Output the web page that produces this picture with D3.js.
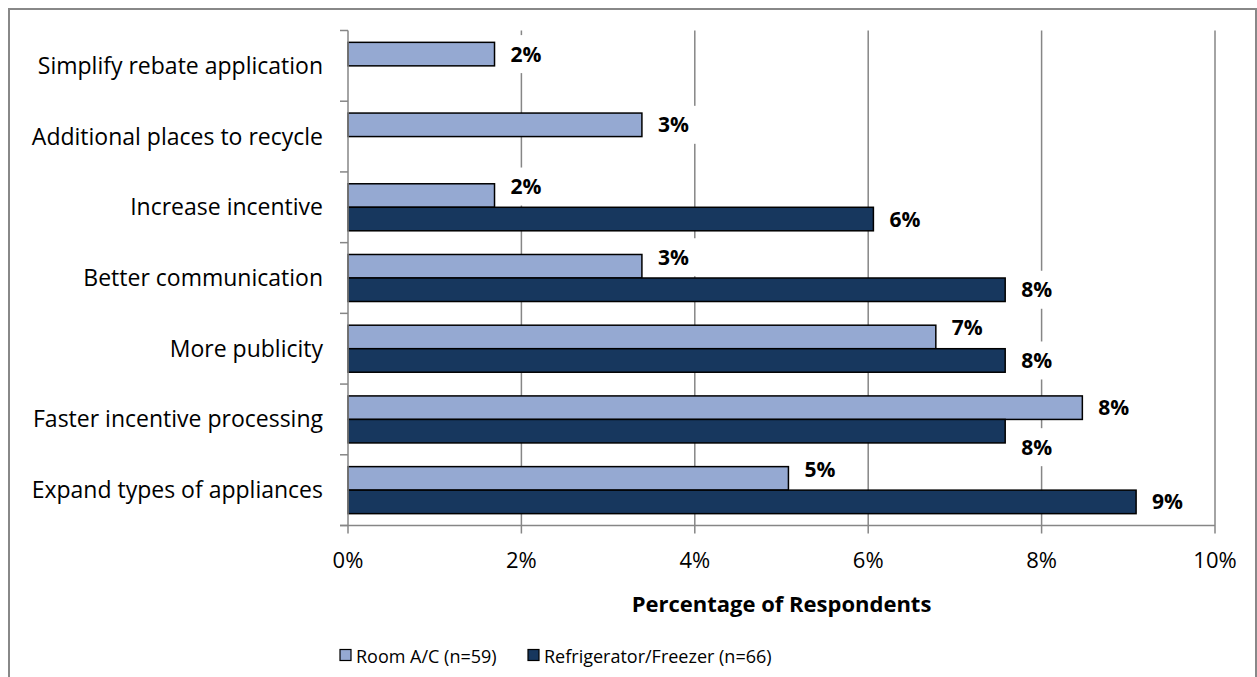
<!DOCTYPE html>
<html>
<head>
<meta charset="utf-8">
<script src="https://cdn.jsdelivr.net/npm/d3@7"></script>
<style>
  html, body { margin: 0; padding: 0; background: #fff; }
  svg { display: block; font-family: "Open Sans", Carlito, Calibri, sans-serif; }
</style>
</head>
<body>
<svg id="chart" width="1257" height="677"></svg>
<script>
// Suggested program improvements, share of respondents by appliance type
const categories = [
  "Simplify rebate application",
  "Additional places to recycle",
  "Increase incentive",
  "Better communication",
  "More publicity",
  "Faster incentive processing",
  "Expand types of appliances"
];
const roomAC = [1.69, 3.39, 1.69, 3.39, 6.78, 8.47, 5.08];
const fridge = [null, null, 6.06, 7.58, 7.58, 7.58, 9.09];
const seriesNames = ["Room A/C (n=59)", "Refrigerator/Freezer (n=66)"];
const xTicks = [0, 2, 4, 6, 8, 10];
const axisTitle = "Percentage of Respondents";

const colors = { ac: "#95A9D2", ref: "#17375E", grid: "#868686" };

const svg = d3.select("#chart");

// outer frame
svg.append("rect")
  .attr("x", 9).attr("y", 9).attr("width", 1247).attr("height", 700)
  .attr("fill", "none").attr("stroke", "#888").attr("stroke-width", 2);

const plot = { left: 348, right: 1215, top: 30.5, bottom: 525.5 };

const x = d3.scaleLinear().domain([0, 10]).range([plot.left, plot.right]);
const y = d3.scaleBand().domain(categories).range([plot.top, plot.bottom]).padding(0);
const bw = y.bandwidth();
const groupH = bw * 0.665;
const sub = d3.scaleBand().domain(["ac", "ref"]).range([(bw - groupH) / 2, (bw + groupH) / 2]).padding(0);

// vertical gridlines (extend below axis as tick marks)
const gGrid = svg.append("g");
gGrid.selectAll("line").data(xTicks.filter(t => t > 0)).join("line")
  .attr("x1", d => x(d)).attr("x2", d => x(d))
  .attr("y1", plot.top).attr("y2", plot.bottom + 8)
  .attr("stroke", colors.grid).attr("stroke-width", 1.5);

// value label records; labels are nudged apart when both bars are present
const rows = categories.map((c, i) => ({ c, ac: roomAC[i], ref: fridge[i] }));
const labels = [];
rows.forEach(r => {
  const yc = y(r.c);
  const acMid = yc + sub("ac") + sub.bandwidth() / 2;
  const refMid = yc + sub("ref") + sub.bandwidth() / 2;
  let acShift = 0, refShift = 0;
  if (r.ref != null) {
    if (r.ac > r.ref) refShift = 16; else acShift = -9;
  }
  labels.push({ v: r.ac, x: x(r.ac) + 16, y: acMid + acShift });
  if (r.ref != null) labels.push({ v: r.ref, x: x(r.ref) + 16, y: refMid + refShift });
});

// white label backgrounds (hide gridlines behind value labels)
const gLabBg = svg.append("g");
// bars
const gBars = svg.append("g");
rows.forEach(r => {
  const yc = y(r.c);
  gBars.append("rect")
    .attr("x", x(0)).attr("y", yc + sub("ac"))
    .attr("width", x(r.ac) - x(0)).attr("height", sub.bandwidth())
    .attr("fill", colors.ac).attr("stroke", "#000").attr("stroke-width", 1.5);
  if (r.ref != null) {
    gBars.append("rect")
      .attr("x", x(0)).attr("y", yc + sub("ref"))
      .attr("width", x(r.ref) - x(0)).attr("height", sub.bandwidth())
      .attr("fill", colors.ref).attr("stroke", "#000").attr("stroke-width", 1.5);
  }
});

// value labels
const gLab = svg.append("g");
labels.forEach(l => {
  const t = gLab.append("text")
    .attr("x", l.x).attr("y", l.y + 7.5)
    .attr("font-size", 21).attr("font-weight", "bold").attr("fill", "#000")
    .text(Math.round(l.v) + "%");
  const w = t.node().getComputedTextLength();
  gLabBg.append("rect")
    .attr("x", l.x - 10).attr("y", l.y - 19)
    .attr("width", w + 20).attr("height", 38)
    .attr("fill", "#fff");
});

// axis lines and ticks
const gAxis = svg.append("g");
gAxis.append("line")
  .attr("x1", plot.left).attr("x2", plot.left)
  .attr("y1", plot.top).attr("y2", plot.bottom)
  .attr("stroke", colors.grid).attr("stroke-width", 1.5);
gAxis.append("line")
  .attr("x1", plot.left - 8).attr("x2", plot.right)
  .attr("y1", plot.bottom).attr("y2", plot.bottom)
  .attr("stroke", colors.grid).attr("stroke-width", 1.5);
const bounds = categories.map(c => y(c)).concat([plot.bottom]);
gAxis.selectAll(".ct").data(bounds).join("line")
  .attr("x1", plot.left - 8).attr("x2", plot.left)
  .attr("y1", d => d).attr("y2", d => d)
  .attr("stroke", colors.grid).attr("stroke-width", 1.5);
gAxis.append("line")
  .attr("x1", plot.left).attr("x2", plot.left)
  .attr("y1", plot.bottom).attr("y2", plot.bottom + 8)
  .attr("stroke", colors.grid).attr("stroke-width", 1.5);

// category labels
svg.append("g").selectAll("text").data(categories).join("text")
  .attr("x", plot.left - 25)
  .attr("y", d => y(d) + bw / 2 + 8)
  .attr("text-anchor", "end")
  .attr("font-size", 23).attr("fill", "#000")
  .text(d => d);

// x tick labels
svg.append("g").selectAll("text").data(xTicks).join("text")
  .attr("x", d => x(d)).attr("y", 568)
  .attr("text-anchor", "middle")
  .attr("font-size", 22).attr("fill", "#000")
  .text(d => d + "%");

// axis title
svg.append("text")
  .attr("x", (plot.left + plot.right) / 2).attr("y", 612)
  .attr("text-anchor", "middle")
  .attr("font-size", 22).attr("font-weight", "bold").attr("fill", "#000")
  .text(axisTitle);

// legend
const legend = svg.append("g");
const legendItems = [
  { name: seriesNames[0], color: colors.ac, x: 340 },
  { name: seriesNames[1], color: colors.ref, x: 528 }
];
legendItems.forEach(it => {
  legend.append("rect")
    .attr("x", it.x).attr("y", 649.5).attr("width", 11).attr("height", 11)
    .attr("fill", it.color).attr("stroke", "#000").attr("stroke-width", 1.2);
  legend.append("text")
    .attr("x", it.x + 16).attr("y", 663)
    .attr("font-size", 18).attr("fill", "#000")
    .text(it.name);
});
</script>
</body>
</html>
